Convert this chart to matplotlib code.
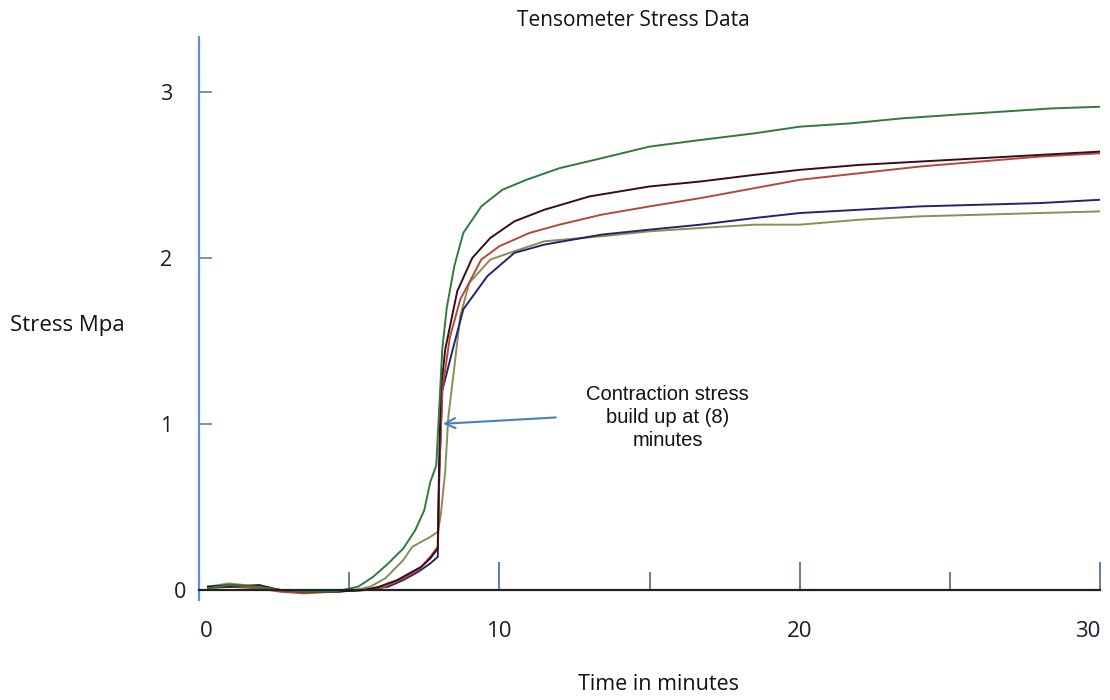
import matplotlib
matplotlib.use("Agg")
import matplotlib.pyplot as plt
from matplotlib.ticker import MultipleLocator
from matplotlib.transforms import ScaledTranslation

# ---------------- data ----------------
green_t = [0.3, 1.0, 2.0, 2.7, 3.5, 4.5, 5.3, 5.8, 6.3, 6.8, 7.2, 7.5, 7.7, 7.9, 8.0, 8.1, 8.25,
           8.5, 8.8, 9.4, 10.1, 10.9, 12.0, 13.4, 15.0, 16.7, 18.5, 20.0, 21.7, 23.4, 25.0, 26.7, 28.4, 30.0]
green_v = [0.01, 0.03, 0.02, 0.0, -0.01, -0.01, 0.02, 0.08, 0.16, 0.25, 0.36, 0.48, 0.65, 0.75, 1.1, 1.45, 1.7,
           1.95, 2.15, 2.31, 2.41, 2.47, 2.54, 2.6, 2.67, 2.71, 2.75, 2.79, 2.81, 2.84, 2.86, 2.88, 2.9, 2.91]

maroon_t = [0.3, 1.0, 2.0, 2.7, 3.5, 4.5, 5.5, 6.0, 6.6, 7.0, 7.4, 7.7, 7.95, 8.0, 8.05, 8.2, 8.6,
            9.1, 9.7, 10.5, 11.5, 13.0, 15.0, 16.7, 18.5, 20.0, 22.0, 24.0, 26.0, 28.0, 30.0]
maroon_v = [0.02, 0.02, 0.03, 0.0, -0.01, -0.01, 0.0, 0.02, 0.06, 0.1, 0.14, 0.19, 0.25, 0.8, 1.2, 1.45, 1.8,
            2.0, 2.12, 2.22, 2.29, 2.37, 2.43, 2.46, 2.5, 2.53, 2.56, 2.58, 2.6, 2.62, 2.64]

red_t = [0.3, 1.0, 2.0, 2.7, 3.5, 4.5, 5.5, 6.2, 6.8, 7.3, 7.7, 7.95, 8.0, 8.1, 8.35, 8.7, 9.4,
         10.0, 11.0, 12.0, 13.4, 15.0, 16.7, 18.5, 20.0, 22.0, 24.0, 26.0, 28.0, 30.0]
red_v = [0.01, 0.02, 0.01, -0.01, -0.02, -0.01, 0.0, 0.02, 0.07, 0.12, 0.2, 0.26, 0.7, 1.2, 1.52, 1.75, 1.99,
         2.07, 2.15, 2.2, 2.26, 2.31, 2.36, 2.42, 2.47, 2.51, 2.55, 2.58, 2.61, 2.63]

navy_t = [0.3, 1.0, 2.0, 2.7, 3.5, 4.5, 5.5, 6.3, 6.8, 7.3, 7.7, 7.95, 8.0, 8.1, 8.45, 8.8, 9.6,
          10.5, 11.5, 13.4, 15.0, 16.7, 18.5, 20.0, 22.0, 24.0, 26.0, 28.0, 30.0]
navy_v = [0.02, 0.03, 0.02, 0.0, -0.01, -0.01, 0.0, 0.02, 0.06, 0.11, 0.16, 0.2, 0.7, 1.2, 1.45, 1.69, 1.89,
          2.03, 2.08, 2.14, 2.17, 2.2, 2.24, 2.27, 2.29, 2.31, 2.32, 2.33, 2.35]

olive_t = [0.3, 1.0, 2.0, 2.7, 3.5, 4.5, 5.2, 5.7, 6.2, 6.8, 7.1, 7.7, 7.95, 8.05, 8.2, 8.3, 8.5,
           8.7, 9.0, 9.7, 10.5, 11.5, 13.4, 15.0, 16.7, 18.5, 20.0, 22.0, 24.0, 26.0, 28.0, 30.0]
olive_v = [0.02, 0.04, 0.02, 0.0, -0.01, -0.01, 0.0, 0.02, 0.07, 0.18, 0.26, 0.32, 0.35, 0.45, 0.72, 1.04, 1.34,
           1.65, 1.85, 1.99, 2.04, 2.1, 2.13, 2.16, 2.18, 2.2, 2.2, 2.23, 2.25, 2.26, 2.27, 2.28]

x_ticks = [0, 10, 20, 30]
y_ticks = [0, 1, 2, 3]
title = "Tensometer Stress Data"
x_label = "Time in minutes"
y_label = "Stress Mpa"
note = "Contraction stress\nbuild up at (8)\nminutes"
arrow_head = (8.03, 1.0)
arrow_tail = (11.97, 1.04)

# ---------------- figure ----------------
W, H = 1110, 700
fig = plt.figure(figsize=(W / 100, H / 100), dpi=100)
ax = fig.add_axes([199 / W, 100 / H, (1100 - 199) / W, 563 / H])

series = [
    (olive_t, olive_v, "#8c8c55"),
    (navy_t, navy_v, "#25226e"),
    (red_t, red_v, "#b5473f"),
    (maroon_t, maroon_v, "#3a0c1a"),
    (green_t, green_v, "#2f7a3e"),
]
for t, v, c in series:
    ax.plot(t, v, color=c, lw=1.4, solid_joinstyle="miter")

ax.set_xlim(0, 30)
ax.set_ylim(-0.06, 3.33)

for s in ("top", "right"):
    ax.spines[s].set_visible(False)
ax.spines["left"].set_color("#5b8fd6")
ax.spines["left"].set_linewidth(1.6)
ax.spines["bottom"].set_position(("data", 0))
ax.spines["bottom"].set_color("#222222")
ax.spines["bottom"].set_linewidth(1.6)

font = "Open Sans"
ax.set_xticks(x_ticks)
ax.xaxis.set_minor_locator(MultipleLocator(5))
ax.set_yticks(y_ticks)
ax.tick_params(axis="x", which="major", direction="in", length=20, width=1.2,
               color="#4a6a8a", pad=22, labelsize=16, labelcolor="#1a1a2e")
ax.tick_params(axis="x", which="minor", direction="in", length=13, width=1.2,
               color="#4a6a8a")
ax.tick_params(axis="y", which="major", direction="in", length=9, width=1.4,
               color="#7a90b0", pad=19, labelsize=15.5, labelcolor="#1a1a2e")

fig.canvas.draw()
xlabs = ax.get_xticklabels()
ylabs = ax.get_yticklabels()
for lab in xlabs + ylabs:
    lab.set_fontfamily(font)
# the "0" labels sit a little right of the origin, the "30" label is pulled inside
xlabs[0].set_transform(xlabs[0].get_transform() + ScaledTranslation(7 / 100, 0, fig.dpi_scale_trans))
xlabs[-1].set_horizontalalignment("right")
ylabs[0].set_transform(ylabs[0].get_transform() + ScaledTranslation(14 / 100, 0, fig.dpi_scale_trans))

fig.text(633 / W, 1 - 20 / H, title, ha="center", va="center", fontsize=15, family=font, color="#111111")
fig.text(658 / W, 1 - 684 / H, x_label, ha="center", va="center", fontsize=15.5, family=font, color="#111111")
fig.text(67 / W, 1 - 325 / H, y_label, ha="center", va="center", fontsize=16, family=font, color="#111111")

ax.annotate("", xy=arrow_head, xytext=arrow_tail,
            arrowprops=dict(arrowstyle="->", color="#4a7fc1", lw=1.5, mutation_scale=18))
ax.text(15.6, 1.04, note, ha="center", va="center", fontsize=14.5, family="Liberation Sans",
        color="#111111", linespacing=1.25)

fig.savefig("out.png", dpi=100)
